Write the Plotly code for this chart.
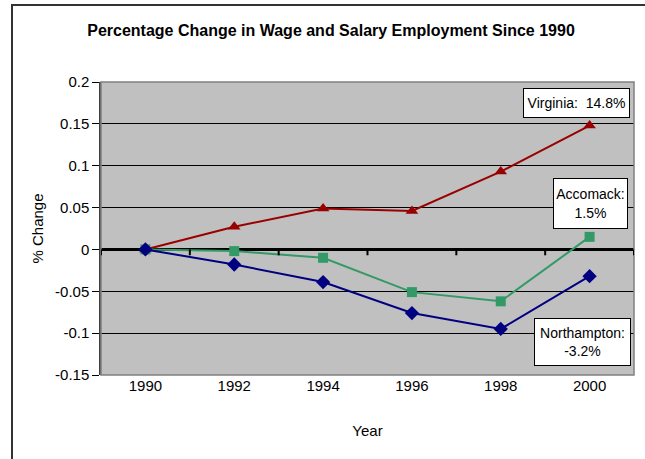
import plotly.graph_objects as go

years = ["1990", "1992", "1994", "1996", "1998", "2000"]
virginia = [0.0, 0.027, 0.049, 0.046, 0.093, 0.148]
accomack = [0.0, -0.002, -0.010, -0.051, -0.062, 0.015]
northampton = [0.0, -0.018, -0.039, -0.076, -0.095, -0.032]

y_ticks = [0.2, 0.15, 0.1, 0.05, 0, -0.05, -0.1, -0.15]
y_tick_text = ["0.2", "0.15", "0.1", "0.05", "0", "-0.05", "-0.1", "-0.15"]

W, H = 645, 459
L, R, T, B = 101, 634, 82, 375
pw, ph = R - L, B - T

def px(x):
    return (x - L) / pw

def py(y):
    return (B - y) / ph

font = "Liberation Sans, Arial, sans-serif"
FS = 15
AFS = 14

fig = go.Figure()
fig.add_trace(go.Scatter(x=years, y=virginia, mode="lines+markers", name="Virginia",
                         line=dict(color="#990000", width=2),
                         marker=dict(symbol="triangle-up", size=11, color="#990000")))
fig.add_trace(go.Scatter(x=years, y=accomack, mode="lines+markers", name="Accomack",
                         line=dict(color="#339966", width=2),
                         marker=dict(symbol="square", size=10, color="#339966")))
fig.add_trace(go.Scatter(x=years, y=northampton, mode="lines+markers", name="Northampton",
                         line=dict(color="#000080", width=2),
                         marker=dict(symbol="diamond", size=11, color="#000080")))

shapes = []
# outer chart frame
shapes.append(dict(type="rect", xref="paper", yref="paper",
                   x0=px(12), x1=px(700), y0=py(520), y1=py(5),
                   line=dict(color="#333333", width=2), fillcolor="rgba(0,0,0,0)", layer="below"))
# plot area border
shapes.append(dict(type="rect", xref="paper", yref="paper", x0=0, x1=1, y0=0, y1=1,
                   line=dict(color="#808080", width=1.5), layer="above"))
# category ticks on zero line
for i in range(len(years) + 1):
    shapes.append(dict(type="line", xref="x", yref="y", x0=i - 0.5, x1=i - 0.5,
                       y0=0, y1=-0.007, line=dict(color="black", width=2)))

box = dict(xref="paper", yref="paper", xanchor="center", yanchor="middle",
           showarrow=False, bgcolor="white", bordercolor="black", borderwidth=1,
           borderpad=1, font=dict(family=font, size=AFS, color="black"))
annotations = [
    dict(text="Virginia:  14.8%", x=px(576.5), y=py(103), width=103, height=26, **box),
    dict(text="Accomack:<br>1.5%", x=px(590.5), y=py(203.5), width=71, height=47, **box),
    dict(text="Northampton:<br>-3.2%", x=px(582.5), y=py(342), width=93, height=44, **box),
]

fig.update_layout(
    width=W, height=H,
    margin=dict(l=L, r=W - R, t=T, b=H - B, pad=0),
    paper_bgcolor="white", plot_bgcolor="#C0C0C0",
    showlegend=False,
    title=dict(text="<b>Percentage Change in Wage and Salary Employment Since 1990</b>",
               xref="container", yref="container",
               x=331 / W, xanchor="center", y=1 - 30 / H, yanchor="middle",
               font=dict(family=font, size=16, color="black")),
    font=dict(family=font, size=FS, color="black"),
    xaxis=dict(type="category", categoryorder="array", categoryarray=years,
               range=[-0.5, 5.5], showgrid=False, ticks="", showline=False,
               zeroline=False, tickfont=dict(size=FS),
               title=dict(text="Year", font=dict(size=FS), standoff=32)),
    yaxis=dict(range=[-0.15, 0.2], tickvals=y_ticks, ticktext=y_tick_text,
               showgrid=True, gridcolor="black", gridwidth=1,
               zeroline=True, zerolinecolor="black", zerolinewidth=2.5,
               showline=True, linecolor="#404040", linewidth=1.5,
               ticks="outside", ticklen=7, tickcolor="black", tickwidth=1,
               tickfont=dict(size=FS),
               title=dict(text="% Change", font=dict(size=FS), standoff=8)),
    shapes=shapes, annotations=annotations,
)

fig.write_html("out.html", config={"displayModeBar": False},
               post_script="document.body.style.margin='0';document.body.style.padding='0';")
